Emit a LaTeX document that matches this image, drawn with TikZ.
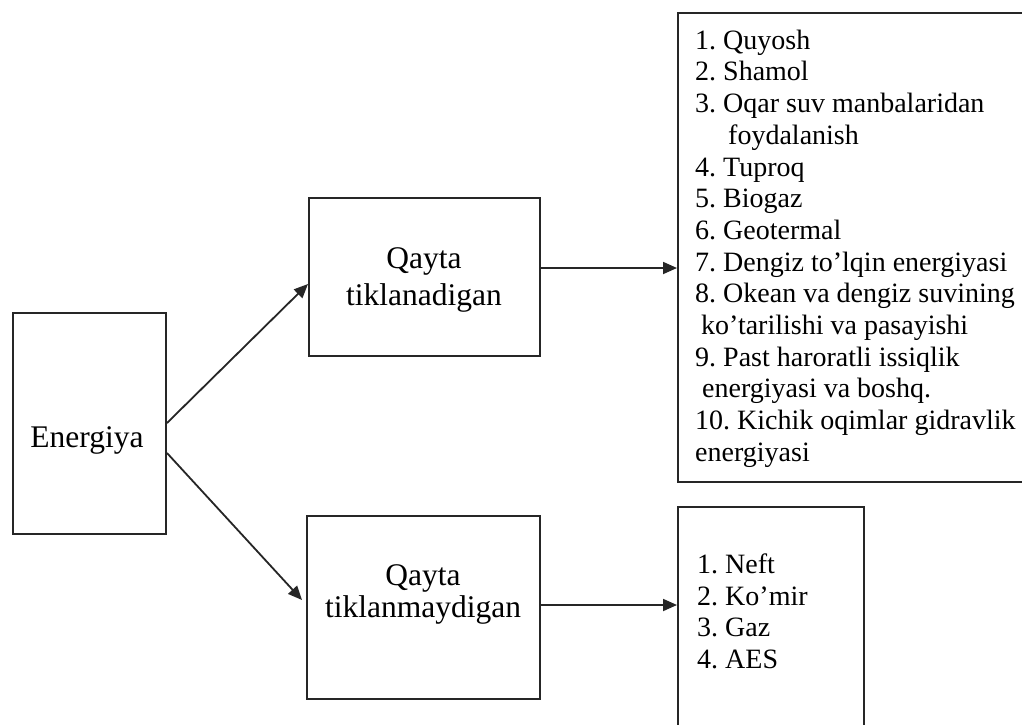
\documentclass[tikz,border=0pt]{standalone}
\usepackage{fontspec}
\setmainfont{Liberation Serif}
\usetikzlibrary{arrows.meta,calc}
\frenchspacing
\begin{document}
\begin{tikzpicture}[x=1pt,y=-1pt,
  box/.style={draw=black!85, line width=2pt, rectangle, inner sep=0pt},
  conn/.style={draw=black!85, line width=1.8pt, -{Triangle[length=14pt,width=12pt]}},
  title/.style={font=\fontsize{31.5}{36}\selectfont, anchor=base, inner sep=0pt},
  list/.style={font=\fontsize{28}{31.7}\selectfont\frenchspacing, anchor=base west, inner sep=0pt}]
\useasboundingbox (0,0) rectangle (1022,725);
\clip (0,0) rectangle (1022,725);
\fill[white] (0,0) rectangle (1022,725);

% boxes
\node[box, minimum width=153pt, minimum height=221pt] (E) at (89.5,423.5) {};
\node[box, minimum width=231pt, minimum height=158pt] (T1) at (424.5,277) {};
\node[box, minimum width=233pt, minimum height=183pt] (T2) at (423.5,607.5) {};
\node[box, minimum width=360pt, minimum height=469pt] (L1) at (858,247.5) {};
\node[box, minimum width=186pt, minimum height=240pt] (L2) at (771,627) {};

% titles
\node[title] (tE) at (87,447) {Energiya};
\node[title] (t1a) at (424,268) {Qayta};
\node[title] (t1b) at (424,305) {tiklanadigan};
\node[title] (t2a) at (423,585) {Qayta};
\node[title] (t2b) at (423,617) {tiklanmaydigan};

% lists
\node[list] (l1) at (695,49.3) {\begin{tabular}[t]{@{}l@{}}
1. Quyosh\\
2. Shamol\\
3. Oqar suv manbalaridan\\
\hspace{33pt}foydalanish\\
4. Tuproq\\
5. Biogaz\\
6. Geotermal\\
7. Dengiz to’lqin energiyasi\\
8. Okean va dengiz suvining\\
\hspace{6pt}ko’tarilishi va pasayishi\\
9. Past haroratli issiqlik\\
\hspace{7pt}energiyasi va boshq.\\
10. Kichik oqimlar gidravlik\\
energiyasi
\end{tabular}};

\node[list] (l2) at (697,573.3) {\begin{tabular}[t]{@{}l@{}}
1. Neft\\
2. Ko’mir\\
3. Gaz\\
4. AES
\end{tabular}};

% connectors
\draw[conn] ([yshift=0.5pt]E.east) -- ([yshift=-7pt]T1.west);
\draw[conn] ([yshift=-29.5pt]E.east) -- ([xshift=-4pt,yshift=7.5pt]T2.west);
\draw[conn] ([yshift=9pt]T1.east) -- ([yshift=9pt]T1.east -| L1.west);
\draw[conn] ([yshift=2.5pt]T2.east) -- ([yshift=2.5pt]T2.east -| L2.west);
\end{tikzpicture}
\end{document}
